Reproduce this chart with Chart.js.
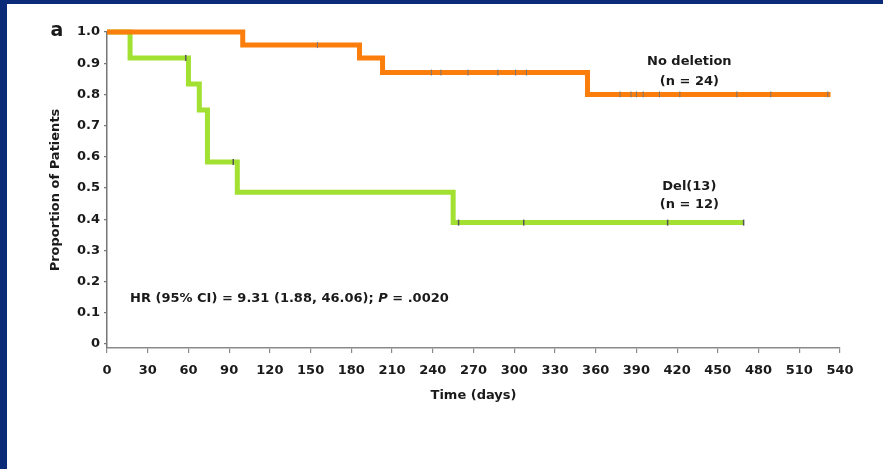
<!DOCTYPE html>
<html>
<head>
<meta charset="utf-8">
<script src="https://cdn.jsdelivr.net/npm/chart.js@4/dist/chart.umd.min.js"></script>
<style>
  html, body { margin: 0; padding: 0; }
  body { width: 883px; height: 469px; background: #0b2a78; position: relative; overflow: hidden; }
  #frame { position: absolute; left: 7px; top: 4px; width: 876px; height: 465px; background: #ffffff; }
  canvas { display: block; }
</style>
</head>
<body>
<div id="frame"><canvas id="c" width="876" height="465"></canvas></div>
<script>
// ---- data (days, proportion) ----
const noDelTimes   = [0, 100, 186, 203, 354, 533];
const noDelSurv    = [1.0, 0.958, 0.917, 0.870, 0.800, 0.800];
const noDelCensT   = [155, 239, 246, 266, 288, 301, 309, 378, 386, 390, 395, 407, 422, 464, 489, 531];
const noDelCensS   = [0.958, 0.870, 0.870, 0.870, 0.870, 0.870, 0.870, 0.800, 0.800, 0.800, 0.800, 0.800, 0.800, 0.800, 0.800, 0.800];

const delTimes     = [0, 17, 60, 68, 74, 96, 255, 469];
const delSurv      = [1.0, 0.917, 0.833, 0.750, 0.583, 0.486, 0.389, 0.389];
const delCensT     = [58, 93, 259, 307, 413, 469];
const delCensS     = [0.917, 0.583, 0.389, 0.389, 0.389, 0.389];

const xTicks = [0, 30, 60, 90, 120, 150, 180, 210, 240, 270, 300, 330, 360, 390, 420, 450, 480, 510, 540];
const yTicks = [0, 0.1, 0.2, 0.3, 0.4, 0.5, 0.6, 0.7, 0.8, 0.9, 1.0];

const toPts = (xs, ys) => xs.map((x, i) => ({ x: x, y: ys[i] }));

const FONT = "'DejaVu Sans', Arial, sans-serif";
const ORANGE = '#fb7d0b';
const GREEN = '#a2e032';

const textPlugin = {
  id: 'annot',
  afterDraw(chart) {
    const { ctx, scales } = chart;
    const xs = scales.x, ys = scales.y;
    ctx.save();
    ctx.fillStyle = '#1a1a1a';
    ctx.textBaseline = 'middle';
    ctx.textAlign = 'center';
    ctx.font = 'bold 13px ' + FONT;
    ctx.fillText('No deletion', xs.getPixelForValue(429), ys.getPixelForValue(0.904));
    ctx.fillText('(n = 24)', xs.getPixelForValue(429), ys.getPixelForValue(0.840));
    ctx.fillText('Del(13)', xs.getPixelForValue(429), ys.getPixelForValue(0.503));
    ctx.fillText('(n = 12)', xs.getPixelForValue(429), ys.getPixelForValue(0.446));
    // HR text
    ctx.textAlign = 'left';
    let x = xs.getPixelForValue(17);
    const y = ys.getPixelForValue(0.144);
    const part1 = 'HR (95% CI) = 9.31 (1.88, 46.06); ';
    ctx.font = 'bold 13px ' + FONT;
    ctx.fillText(part1, x, y);
    x += ctx.measureText(part1).width;
    ctx.font = 'italic bold 13px ' + FONT;
    ctx.fillText('P', x, y);
    x += ctx.measureText('P').width;
    ctx.font = 'bold 13px ' + FONT;
    ctx.fillText(' = .0020', x, y);
    // panel letter
    ctx.textAlign = 'center';
    ctx.font = 'bold 19px ' + FONT;
    ctx.fillText('a', 50, 27);
    ctx.restore();
  }
};

new Chart(document.getElementById('c'), {
  type: 'line',
  data: {
    datasets: [
      {
        label: 'No deletion',
        data: toPts(noDelTimes, noDelSurv),
        borderColor: ORANGE,
        borderWidth: 5,
        stepped: 'before',
        pointRadius: 0,
        fill: false,
        clip: false,
        order: 2
      },
      {
        label: 'Del(13)',
        data: toPts(delTimes, delSurv),
        borderColor: GREEN,
        borderWidth: 5,
        stepped: 'before',
        pointRadius: 0,
        fill: false,
        clip: false,
        order: 3
      },
      {
        label: 'No deletion censored',
        type: 'scatter',
        data: toPts(noDelCensT, noDelCensS),
        pointStyle: 'line',
        rotation: 90,
        radius: 3,
        borderColor: '#777777',
        borderWidth: 1,
        showLine: false,
        order: 1
      },
      {
        label: 'Del(13) censored',
        type: 'scatter',
        data: toPts(delCensT, delCensS),
        pointStyle: 'line',
        rotation: 90,
        radius: 3,
        borderColor: '#555555',
        borderWidth: 1.5,
        showLine: false,
        order: 1
      }
    ]
  },
  options: {
    responsive: false,
    devicePixelRatio: 1,
    animation: false,
    layout: { padding: { left: 0, right: 43, top: 28, bottom: 0 } },
    plugins: { legend: { display: false }, tooltip: { enabled: false } },
    scales: {
      x: {
        type: 'linear',
        min: 0, max: 540,
        afterFit(s) { s.height = 121; },
        afterBuildTicks(s) { s.ticks = xTicks.map(v => ({ value: v })); },
        border: { display: true, color: '#8a8a8a', width: 1.5 },
        grid: { drawOnChartArea: false, drawTicks: true, tickLength: 5, color: '#8a8a8a', lineWidth: 1.2 },
        ticks: { color: '#1a1a1a', font: { family: FONT, size: 13, weight: 'bold' }, padding: 10, maxRotation: 0, autoSkip: false },
        title: { display: true, text: 'Time (days)', color: '#1a1a1a', font: { family: FONT, size: 13, weight: 'bold' }, padding: { top: 0, bottom: 66 } }
      },
      y: {
        type: 'linear',
        min: -0.013, max: 1.0,
        afterFit(s) { s.width = 100; },
        afterBuildTicks(s) { s.ticks = yTicks.map(v => ({ value: v })); },
        border: { display: true, color: '#777777', width: 1.5 },
        grid: { drawOnChartArea: false, drawTicks: true, tickLength: 3, color: '#777777', lineWidth: 1.2 },
        ticks: {
          color: '#1a1a1a', font: { family: FONT, size: 13, weight: 'bold' }, padding: 4,
          callback: v => (v === 0 ? '0' : v.toFixed(1))
        },
        title: { display: true, text: 'Proportion of Patients', color: '#1a1a1a', font: { family: FONT, size: 13, weight: 'bold' }, padding: { top: 41, bottom: 0 } }
      }
    }
  },
  plugins: [textPlugin]
});
</script>
</body>
</html>
